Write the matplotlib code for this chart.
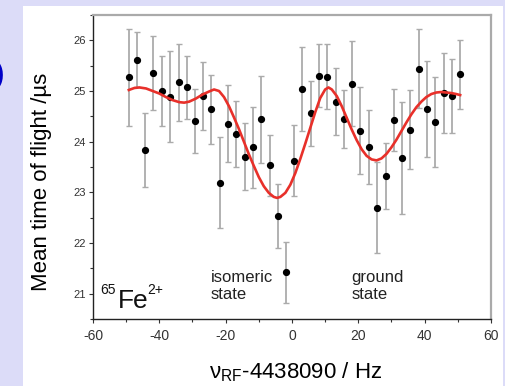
import matplotlib
matplotlib.use("Agg")
import matplotlib.pyplot as plt
from matplotlib.patches import Rectangle
from matplotlib.ticker import MultipleLocator

plt.rcParams['font.family'] = ['Liberation Sans', 'DejaVu Sans']
plt.rcParams['mathtext.fontset'] = 'custom'
plt.rcParams['mathtext.rm'] = 'Liberation Sans'
plt.rcParams['mathtext.it'] = 'Liberation Sans:italic'
plt.rcParams['axes.unicode_minus'] = False

# measured points (frequency offset in Hz, mean TOF in us, error)
freq = [-49.2, -46.8, -44.3, -41.8, -39.2, -36.8, -34.2, -31.8, -29.3, -26.9,
        -24.3, -21.8, -19.3, -16.8, -14.3, -11.8, -9.3, -6.7, -4.2, -1.9,
        0.7, 3.1, 5.6, 8.1, 10.7, 13.2, 15.7, 18.2, 20.6, 23.1,
        25.7, 28.2, 30.7, 33.2, 35.7, 38.2, 40.6, 43.2, 45.7, 48.2, 50.7]
tof = [25.27, 25.62, 23.83, 25.35, 25.00, 24.89, 25.17, 25.07, 24.41, 24.90,
       24.64, 23.19, 24.35, 24.15, 23.70, 23.89, 24.44, 23.53, 22.54, 21.42,
       23.62, 25.04, 24.56, 25.30, 25.28, 24.79, 24.44, 25.14, 24.22, 23.89,
       22.70, 23.32, 24.42, 23.68, 24.24, 25.44, 24.64, 24.39, 24.96, 24.91, 25.33]
tof_err = [0.96, 0.55, 0.73, 0.73, 0.69, 0.90, 0.76, 0.62, 0.63, 0.67,
           0.68, 0.90, 0.76, 0.65, 0.66, 0.80, 0.86, 0.60, 0.63, 0.60,
           0.70, 0.83, 0.64, 0.62, 0.64, 0.66, 0.57, 0.84, 0.85, 0.73,
           0.90, 0.65, 0.61, 1.10, 0.77, 0.78, 0.95, 0.89, 0.79, 0.73, 0.68]

# fit curve
fit_x = [-49.2, -47.5, -46, -44, -42, -40, -38, -36, -34, -32.5, -31, -29, -27, -25,
         -23.5, -22, -20.5, -19, -17.5, -16, -14.5, -13, -11.5, -10, -8.5, -7, -5.5,
         -4.5, -3.5, -2, -0.5, 1, 2.5, 4, 5.5, 7, 8.5, 10, 11, 12, 13.5, 15, 16.5, 18,
         19.5, 21, 22.5, 24, 25.5, 27, 28.5, 30, 31.5, 33, 34.5, 36, 37.5, 39, 40.5,
         42, 43.5, 45, 46.5, 48, 49.5, 50.7]
fit_y = [25.02, 25.06, 25.07, 25.05, 25.00, 24.95, 24.88, 24.82, 24.78, 24.77, 24.79,
         24.85, 24.93, 24.99, 25.03, 25.00, 24.88, 24.70, 24.48, 24.25, 24.00, 23.75,
         23.52, 23.30, 23.12, 22.99, 22.91, 22.89, 22.91, 22.99, 23.15, 23.38, 23.66,
         23.96, 24.27, 24.58, 24.86, 25.03, 25.07, 25.03, 24.90, 24.70, 24.47, 24.24,
         24.03, 23.85, 23.72, 23.65, 23.63, 23.67, 23.76, 23.89, 24.04, 24.21, 24.38,
         24.54, 24.68, 24.79, 24.88, 24.94, 24.97, 24.98, 24.97, 24.96, 24.94, 24.92]

fig = plt.figure(figsize=(5.06, 3.86), dpi=100)
fig.patch.set_facecolor('#dcdcf8')
fig.patches.append(Rectangle((23 / 506, 0), 480 / 506, 380 / 386,
                             transform=fig.transFigure, facecolor='white',
                             edgecolor='none', zorder=-10))
fig.text(-0.010, 0.805, ')', color='#0000c8', fontsize=20, fontweight='bold',
         ha='left', va='center')

ax = fig.add_axes([93 / 506, 1 - 319 / 386, 398 / 506, 304 / 386])
ax.set_facecolor('none')

eb = ax.errorbar(freq, tof, yerr=tof_err, fmt='o', color='black', markersize=4.2,
                 ecolor='#ababab', elinewidth=1.3, capsize=2.2, capthick=1.0, zorder=3)
for cap in eb[1]:
    cap.set_color('#555555')
ax.plot(fit_x, fit_y, color='#e8302a', lw=1.9, zorder=4)

ax.set_xlim(-60, 60)
ax.set_ylim(20.5, 26.5)
ax.xaxis.set_major_locator(MultipleLocator(20))
ax.xaxis.set_minor_locator(MultipleLocator(10))
ax.yaxis.set_major_locator(MultipleLocator(1))
ax.yaxis.set_minor_locator(MultipleLocator(0.5))
ax.tick_params(axis='both', which='major', direction='out', length=3, width=0.8,
               colors='#333333')
ax.tick_params(axis='both', which='minor', direction='out', length=2, width=0.8,
               colors='#333333')
ax.tick_params(axis='x', labelsize=10, pad=4)
ax.tick_params(axis='y', labelsize=8, pad=2)

for s in ['left', 'bottom']:
    ax.spines[s].set_color('#222222')
    ax.spines[s].set_linewidth(1.0)
for s in ['top', 'right']:
    ax.spines[s].set_color('#aaaaaa')
    ax.spines[s].set_linewidth(1.6)

ax.set_ylabel('Mean time of flight /µs', fontsize=16)
ax.yaxis.set_label_coords(-0.104, 0.45)
ax.set_xlabel(r'ν$_{\rm RF}$-4438090 / Hz', fontsize=16)
ax.xaxis.set_label_coords(0.51, -0.135)

# 65Fe2+ label built from pieces
ax.text(0.017, 0.118, '65', transform=ax.transAxes, fontsize=10,
        ha='left', va='top', color='#111111')
ax.text(0.062, 0.036, 'Fe', transform=ax.transAxes, fontsize=19,
        ha='left', va='baseline', color='#111111')
ax.text(0.137, 0.118, '2+', transform=ax.transAxes, fontsize=10,
        ha='left', va='top', color='#111111')

ax.text(-24.6, 21.47, 'isomeric\nstate', fontsize=12, ha='left', va='top',
        color='#222222', linespacing=1.2)
ax.text(17.9, 21.47, 'ground\nstate', fontsize=12, ha='left', va='top',
        color='#222222', linespacing=1.2)

fig.savefig('out.png', dpi=100)
